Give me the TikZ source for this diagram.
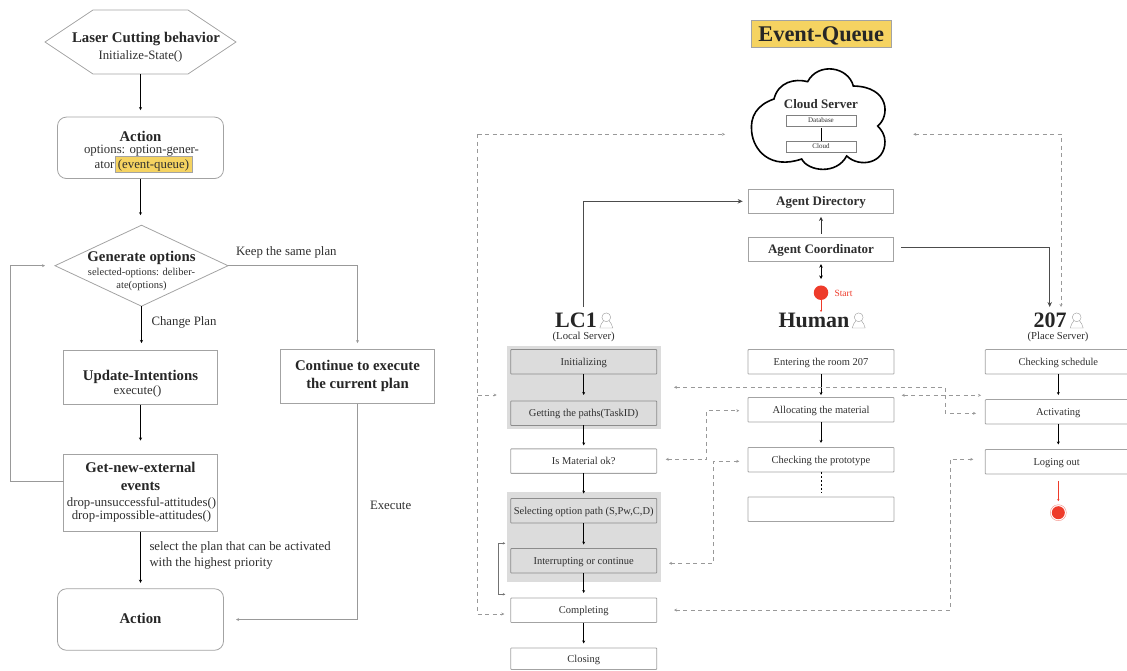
\documentclass[tikz,border=0pt]{standalone}
\usepackage{fontspec}
\setmainfont{Liberation Serif}
\usetikzlibrary{arrows.meta}
\definecolor{txt}{HTML}{2F2F2F}
\definecolor{edge}{HTML}{A3A3A3}
\definecolor{hilite}{HTML}{F5D361}
\definecolor{panelgray}{HTML}{DCDCDC}
\definecolor{redd}{HTML}{EE3B2A}
\newcommand{\fs}[1]{\fontsize{#1}{#1}\selectfont}
\tikzset{
  every node/.style={text=txt,inner sep=0pt,outer sep=0pt,align=center},
  big/.style={font=\fs{12.8},text height=8.4pt,text depth=0pt},
  bigb/.style={font=\fs{14.8}\bfseries,text=black!85,text height=9.8pt,text depth=0pt},
  head/.style={font=\fs{22}\bfseries,text=black!85,text height=14.5pt,text depth=0pt},
  sub/.style={font=\fs{10.5},text height=7pt,text depth=0pt},
  small/.style={font=\fs{10.7},text height=7pt,text depth=0pt},
  outline/.style={draw=edge,line width=.8pt},
  leftbox/.style={outline,minimum width=154,minimum height=54.5},
  roundbox/.style={outline,rounded corners=9pt,minimum width=166,minimum height=61.5},
  flowbox/.style={outline,minimum width=146,minimum height=24.5,font=\fs{10.5},text height=7pt,text depth=0pt,rounded corners=.7pt},
  graybox/.style={flowbox,fill=panelgray,draw=black!45},
  tiny box/.style={draw=black!50,line width=.5pt,minimum width=69.5,minimum height=10.5},
  tiny text/.style={font=\fs{7},text height=4.6pt,text depth=0pt},
  agentbox/.style={outline,minimum width=145.5,minimum height=24.3,font=\fs{13}\bfseries,text height=8.6pt,text depth=0pt},
  tip/.style={-{Stealth[length=3pt,width=3pt]}},
  solidarr/.style={tip,draw=black,line width=.8pt},
  grayarr/.style={tip,draw=black!40,line width=.7pt},
  dash line/.style={draw=black!40,line width=.55pt,dash pattern=on 4pt off 3.5pt},
  dasharr/.style={dash line,tip},
  dashboth/.style={dash line,{Stealth[length=3pt,width=3pt]}-{Stealth[length=3pt,width=3pt]}},
  person/.pic={
    \draw[black!40,line width=.4pt] (0,-3.2) circle[radius=4.4];
    \draw[black!40,line width=.4pt] (-2.8,.3) .. controls (-4,2) and (-6,4) .. (-6.5,7.5) -- (6.5,7.5) .. controls (6,4) and (4,2) .. (2.8,.3);
  }
}
\begin{document}
\begin{tikzpicture}[x=1pt,y=-1pt]
\useasboundingbox (0,0) rectangle (1127,670);
\clip (0,0) rectangle (1127,670);

% ---------- left flowchart ----------
\node[minimum width=191,minimum height=64] (hex) at (140.5,42) {};
\draw[outline] (hex.west) -- (93,10) -- (188,10) -- (hex.east) -- (188,74) -- (93,74) -- cycle;
\node[bigb] (hext) at (146,38) {Laser Cutting behavior};
\node[big] (hexs) at (140.5,55.5) {Initialize-State()};

\node[roundbox] (act1) at (140.5,147.8) {};
\node[bigb] (act1t) at (140.5,136.5) {Action};
\node[big] (act1a) at (141.5,149) {options: option-gener-};
\node[big,anchor=east] (act1b) at (114.5,164) {ator};
\node[big,fill=hilite,draw=edge,line width=.4pt,minimum width=76.5,minimum height=15.5] (eventq) at (153.5,164) {(event-queue)};

\node[minimum width=173,minimum height=81] (dia) at (141.5,265.7) {};
\draw[outline] (dia.west) -- (dia.north) -- (dia.east) -- (dia.south) -- cycle;
\node[bigb] (diat) at (141.5,256.5) {Generate options};
\node[sub] (diaa) at (141.5,271.5) {selected-options: deliber-};
\node[sub] (diab) at (141.5,284.5) {ate(options)};

\node[leftbox] (upd) at (140.5,377.3) {};
\node[bigb] (updt) at (140.5,376) {Update-Intentions};
\node[big] (upds) at (137.5,390) {execute()};

\node[leftbox] (cont) at (357.5,376.3) {};
\node[bigb] (conta) at (357.5,366) {Continue to execute};
\node[bigb] (contb) at (357.5,384) {the current plan};

\node[leftbox,minimum height=77] (gne) at (140.5,493) {};
\node[bigb] (gnea) at (140.5,468) {Get-new-external};
\node[bigb] (gneb) at (140.5,486) {events};
\node[big] (gnec) at (141.5,502) {drop-unsuccessful-attitudes()};
\node[big] (gned) at (141.5,515) {drop-impossible-attitudes()};

\node[roundbox] (act2) at (140.5,619.5) {};
\node[bigb] (act2t) at (140.5,619) {Action};

\node[big,anchor=west] (keep) at (236,251) {Keep the same plan};
\node[big,anchor=west] (chg) at (151.5,321) {Change Plan};
\node[big,anchor=west] (exe) at (370,505) {Execute};
\node[big,anchor=west] (sel1) at (149.5,546) {select the plan that can be activated};
\node[big,anchor=west] (sel2) at (149.5,562) {with the highest priority};

\draw[solidarr,shorten >=7pt] (hex.south) -- (act1.north);
\draw[solidarr,shorten >=10pt] (act1.south) -- (act1.south |- dia.north);
\draw[solidarr,shorten >=7pt] (dia.south) -- (141.5,350);
\draw[solidarr,shorten >=14pt] (upd.south) -- (gne.north);
\draw[solidarr,shorten >=6pt] (gne.south) -- (act2.north);
\coordinate (loopend) at (45,265.7);
\draw[grayarr] (gne.west |- 0,481) -| (10.5,265.7) -- (loopend);
\draw[grayarr,shorten >=6pt] (dia.east) -| (cont.north);
\coordinate (execend) at (236,619.5);
\draw[grayarr] (cont.south) |- (execend);

% ---------- right: header and cloud ----------
\node[fill=hilite,draw=edge,line width=.6pt,minimum width=140.5,minimum height=27.5,font=\fs{22.4}\bfseries,text=black!85,text height=14.6pt,text depth=0pt] (eq) at (821.2,33.7) {Event-Queue};

\draw[black,line width=1.6pt,fill=white,x=.3333pt,y=-.3333pt,shift={(700pt,0pt)}]
  (222,297) .. controls (170,315) and (150,350) .. (155,395)
  .. controls (160,450) and (210,510) .. (305,477)
  .. controls (325,515) and (410,525) .. (440,468)
  .. controls (480,505) and (555,490) .. (555,425)
  .. controls (555,405) and (545,390) .. (533,378)
  .. controls (570,350) and (570,260) .. (460,258)
  .. controls (445,200) and (355,185) .. (323,245)
  .. controls (285,235) and (235,245) .. (222,297) -- cycle;
\node[font=\fs{13}\bfseries,text height=8.6pt,text depth=0pt] (cst) at (821,104) {Cloud Server};
\node[tiny box] (db) at (821,120.5) {};
\node[tiny text] (dbt) at (821,120) {Database};
\node[tiny box] (cl) at (821,146.5) {};
\node[tiny text] (clt) at (821,146) {Cloud};
\draw[black,line width=.7pt,shorten <=2pt] (db.south) -- (cl.north);

\node[agentbox] (dir) at (821,201.3) {Agent Directory};
\node[agentbox] (coord) at (821,249.5) {Agent Coordinator};
\draw[draw=black!80,line width=.8pt,-{Stealth[length=4pt,width=4pt]},shorten <=3.5pt,shorten >=3.5pt] (coord.north) -- (dir.south);

\node[circle,fill=redd,minimum size=14.5] (start) at (821,292.7) {};
\node[font=\fs{9.5},text=redd,anchor=west,text height=6.3pt,text depth=0pt] (startt) at (834.5,293.5) {Start};
\draw[black,line width=.8pt,{Stealth[length=3.5pt,width=3.5pt]}-{Stealth[length=3.5pt,width=3.5pt]},shorten <=2.5pt,shorten >=3pt] (coord.south) -- (821,282);

% ---------- lane headers ----------
\node[head] (lc1) at (576,320.5) {LC1};
\pic at (606.3,320.5) {person};
\node[small] (lc1s) at (583.7,335.7) {(Local Server)};
\node[head] (human) at (814,320.5) {Human};
\pic at (858.7,320.5) {person};
\node[head] (p207) at (1050,320.5) {207};
\pic at (1076.7,320.5) {person};
\node[small] (p207s) at (1058,335.7) {(Place Server)};
\draw[redd,line width=.7pt,-{Stealth[length=2.2pt,width=2.2pt]}] (start.south) -- (821,312);

% ---------- LC1 lane ----------
\fill[panelgray] (507,346) rectangle (661,428.7);
\fill[panelgray] (507,492) rectangle (661,581.7);
\node[graybox] (init) at (583.7,361.8) {Initializing};
\node[graybox] (path) at (583.7,413.2) {Getting the paths(TaskID)};
\node[flowbox] (mat) at (583.7,461.1) {Is Material ok?};
\node[graybox] (opt) at (583.7,510.8) {Selecting option path (S,Pw,C,D)};
\node[graybox] (intr) at (583.7,560.8) {Interrupting or continue};
\node[flowbox] (comp) at (583.7,610.3) {Completing};
\node[flowbox,minimum height=21.5] (close) at (583.7,658.7) {Closing};
\foreach \a/\b/\s in {init/path/6,path/mat/3.5,mat/opt/5,opt/intr/4,intr/comp/5,comp/close/4.5}
  \draw[solidarr,shorten >=\s pt] (\a.south) -- (\b.north);

% ---------- Human lane ----------
\node[flowbox] (room) at (821,361.8) {Entering the room 207};
\node[flowbox] (alloc) at (821,409.8) {Allocating the material};
\node[flowbox] (proto) at (821,459.7) {Checking the prototype};
\node[flowbox] (blank) at (821,509.2) {};
\draw[solidarr,shorten >=2.5pt] (room.south) -- (alloc.north);
\draw[solidarr,shorten >=4.5pt] (alloc.south) -- (proto.north);
\draw[black,line width=.7pt,dash pattern=on 2pt off 2pt,shorten >=4.5pt] (proto.south) -- (blank.north);

% ---------- 207 lane ----------
\node[flowbox] (sched) at (1058.3,361.8) {Checking schedule};
\node[flowbox] (activ) at (1058.3,411.8) {Activating};
\node[flowbox] (logout) at (1058.3,461.7) {};
\node[small,font=\fs{10.5}] (logt) at (1056.7,461.7) {Loging out};
\node[circle,fill=redd,minimum size=13] (stop) at (1058.3,512.7) {};
\draw[redd!60,line width=.4pt] (stop) circle[radius=8];
\draw[solidarr,shorten >=4.5pt] (sched.south) -- (activ.north);
\draw[solidarr,shorten >=5pt] (activ.south) -- (logout.north);
\draw[redd,line width=.7pt,-{Stealth[length=2.2pt,width=2.2pt]},shorten <=7pt,shorten >=5pt] (logout.south) -- (stop.north);

% ---------- solid connectors between lanes ----------
\coordinate (lcup) at (583.7,307);
\coordinate (dirin) at (742.7,201.3);
\draw[draw=black!70,line width=.7pt,-{Stealth[length=5pt,width=4.5pt]}] (lcup) |- (dirin);
\coordinate (coordout) at (901.3,247.3);
\coordinate (pin) at (1049.7,307);
\draw[draw=black!70,line width=.7pt,-{Stealth[length=5pt,width=4.5pt]}] (coordout) -| (pin);

% ---------- dashed connectors ----------
\coordinate (cloudR) at (913.3,134.3);
\coordinate (pdash) at (1061,307);
\draw[dashboth] (cloudR) -| (pdash);
\coordinate (cloudL) at (725,134.3);
\coordinate (compin) at (504.3,614);
\draw[dash line] (477.5,134.3) -- (477.5,614);
\draw[dasharr] (477.5,134.3) -- (cloudL);
\draw[dasharr] (477.5,614) -- (compin);
\coordinate (grpin) at (496.7,395);
\draw[dasharr] (477.5,395) -- (grpin);
\coordinate (a1) at (674,387.3);
\coordinate (a2) at (976,413.3);
\draw[dashboth] (a1) -- (945.3,387.3) |- (a2);
\coordinate (b1) at (901.7,395.3);
\coordinate (b2) at (981,395.3);
\draw[dashboth] (b1) -- (b2);
\coordinate (c1) at (665.7,459.3);
\coordinate (c2) at (739.3,410.7);
\draw[dashboth] (c1) -- (706.3,459.3) |- (c2);
\coordinate (d1) at (669,563.3);
\coordinate (d2) at (739.3,461.3);
\draw[dashboth] (d1) -- (713.7,563.3) |- (d2);
\coordinate (e1) at (674,610);
\coordinate (e2) at (973.3,459.3);
\draw[dashboth] (e1) -- (950.3,610) |- (e2);
\coordinate (f1) at (505.3,543.3);
\coordinate (f2) at (505.3,594.3);
\draw[draw=black!55,line width=.6pt,{Stealth[length=2.5pt,width=2.5pt]}-{Stealth[length=2.5pt,width=2.5pt]}] (f1) -- (498.7,543.3) -- (498.7,594.3) -- (f2);
\end{tikzpicture}
\end{document}
